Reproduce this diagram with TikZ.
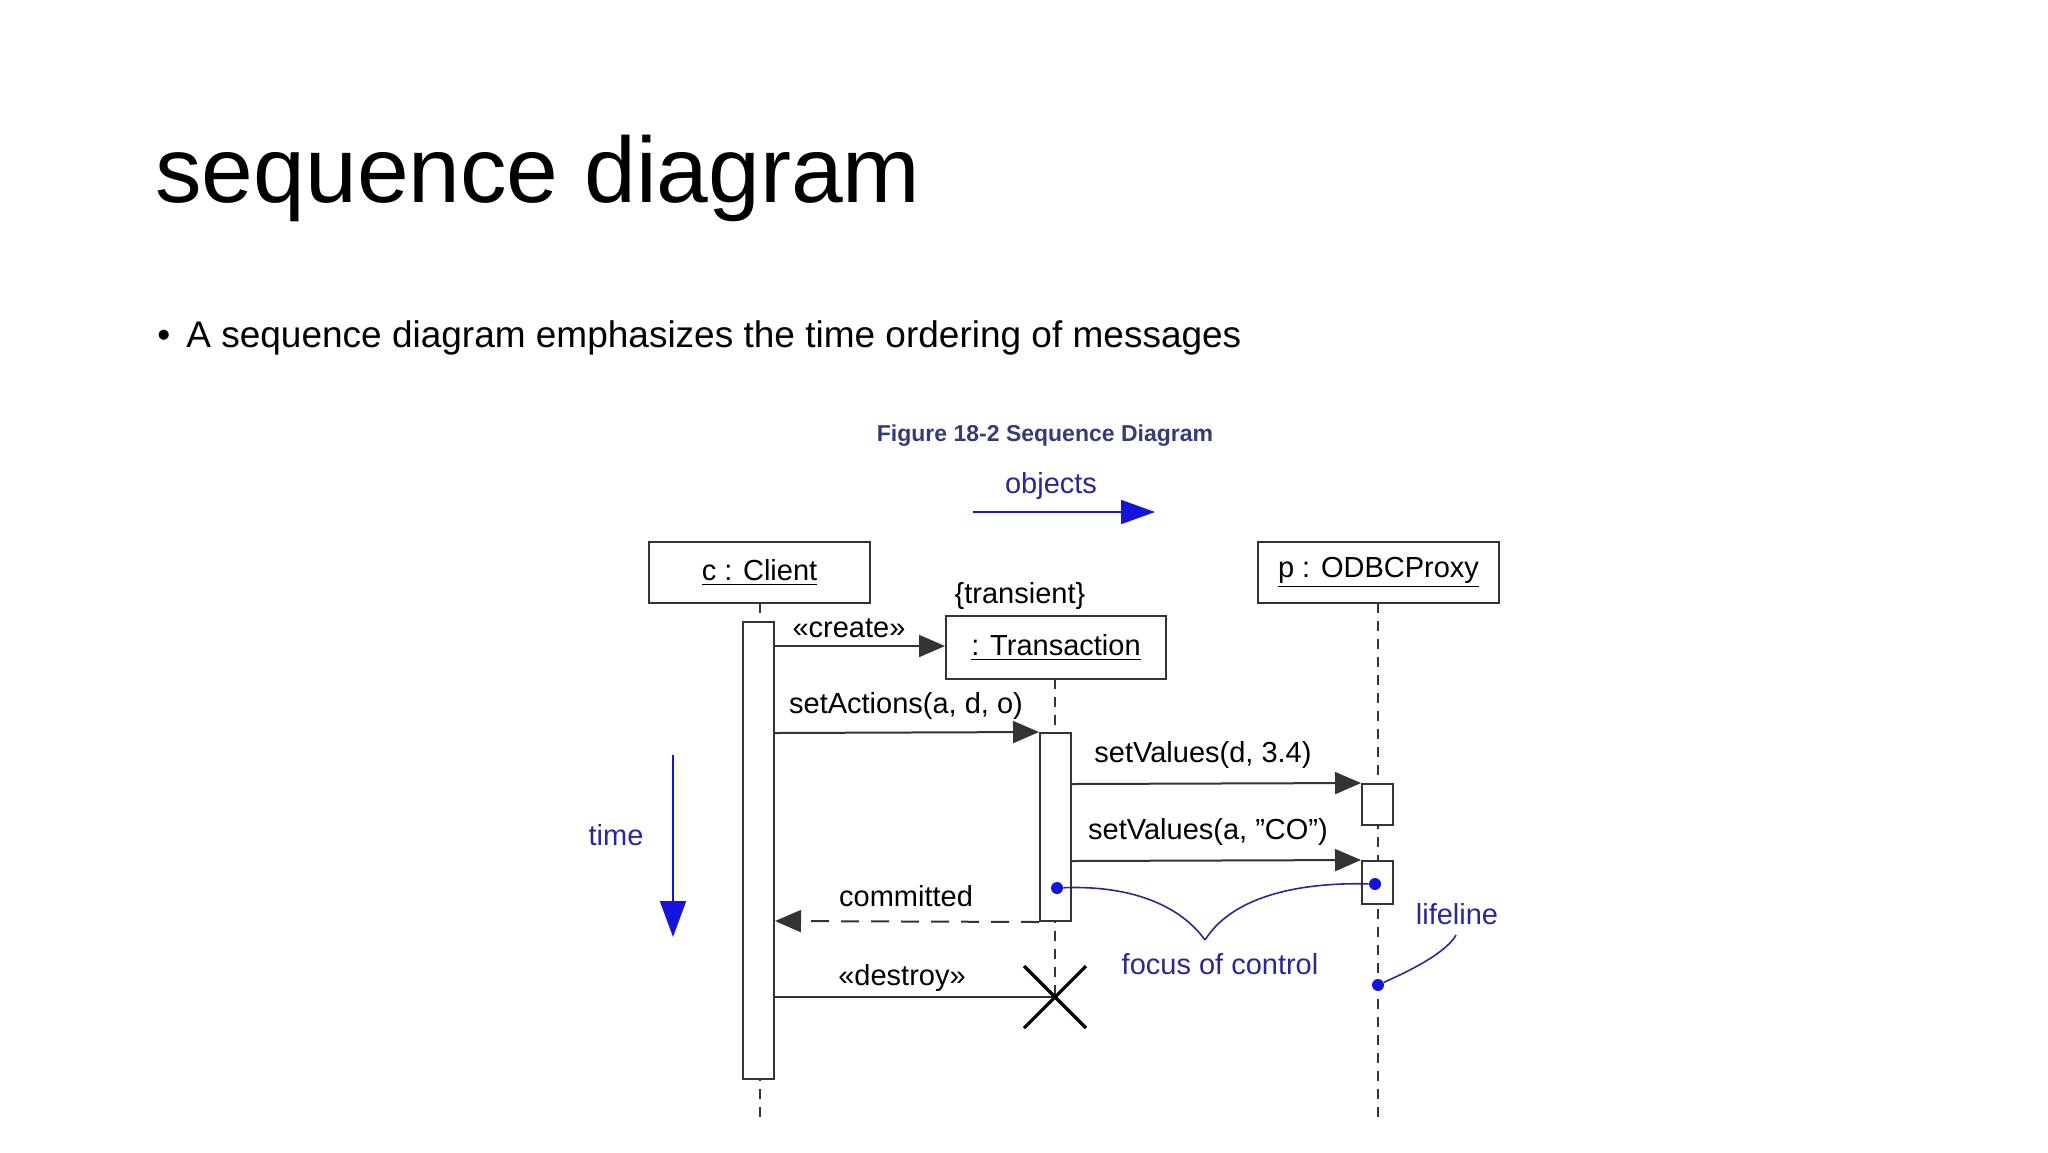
\documentclass[tikz,border=0pt]{standalone}
\usepackage{fontspec}
\setmainfont{Liberation Sans}
\usetikzlibrary{arrows.meta}
\definecolor{capblue}{RGB}{50,60,120}
\definecolor{fblue}{RGB}{20,20,220}
\definecolor{nblue}{RGB}{40,40,150}
\begin{document}
\begin{tikzpicture}[x=0.5pt,y=-0.5pt,
  box/.style={draw=black!80,line width=1pt,fill=white},
  msg/.style={draw=black!80,line width=1pt,-{Triangle[length=13pt,width=11pt]}},
  life/.style={draw=black!80,line width=0.8pt,dash pattern=on 5pt off 4pt},
  lbl/.style={font=\fontsize{14.5}{16}\selectfont,inner sep=0pt},
  blbl/.style={font=\fontsize{14.5}{16}\selectfont,inner sep=0pt,text=nblue},
  bl/.style={draw=nblue,line width=0.8pt},
  dot/.style={circle,fill=fblue,inner sep=0pt,minimum size=6pt}]
\useasboundingbox (0,0) rectangle (2048,1152);
\node[anchor=base west,inner sep=0pt,font=\fontsize{46.5}{50}\selectfont] (title) at (155,202) {sequence diagram};
\node[anchor=base west,inner sep=0pt,font=\fontsize{18.5}{22}\selectfont] (bul) at (157,347) {\textbullet\hspace{8pt}A sequence diagram emphasizes the time ordering of messages};
\node[font=\fontsize{11.5}{13}\selectfont\bfseries,text=capblue] (cap) at (1045,436) {Figure 18-2 Sequence Diagram};
\node[blbl] (obj) at (1051,486) {objects};
\coordinate (oa) at (973,512); \coordinate (ob) at (1155,512);
\draw[draw=fblue,line width=1pt,-{Triangle[length=17pt,width=12pt]}] (oa) -- (ob);
% lifelines
\coordinate (cl1) at (760,603); \coordinate (cl2) at (760,1122);
\coordinate (tl1) at (1055,679); \coordinate (tl2) at (1055,997);
\coordinate (pl1) at (1378,603); \coordinate (pl2) at (1378,1122);
\draw[life] (cl1) -- (cl2);
\draw[life] (tl1) -- (tl2);
\draw[life] (pl1) -- (pl2);
% objects
\node[box,minimum width=110.5pt,minimum height=30.5pt,lbl,draw] (c) at (759.5,572.5) {\underline{c : Client}};
\node[box,minimum width=110pt,minimum height=31.5pt,lbl,draw] (t) at (1056,647.5) {\underline{: Transaction}};
\node[box,minimum width=120.5pt,minimum height=30.5pt,lbl,draw] (p) at (1378.5,572.5) {\underline{p : ODBCProxy}};
\node[lbl] (tr) at (1020,596) {\{transient\}};
% activations
\node[box,minimum width=15.5pt,minimum height=228.5pt,inner sep=0pt] (ca) at (758.5,850.5) {};
\node[box,minimum width=15.5pt,minimum height=94pt,inner sep=0pt] (ta) at (1055.5,827) {};
\node[box,minimum width=15.5pt,minimum height=20.5pt,inner sep=0pt] (pa1) at (1377.5,804.5) {};
\node[box,minimum width=15.5pt,minimum height=21.5pt,inner sep=0pt] (pa2) at (1377.5,882.5) {};
% messages
\draw[msg] (ca.east |- 0,646) -- (t.west |- 0,646);
\node[lbl] (l1) at (849,628) {«create»};
\draw[msg] (ca.east |- 0,733) -- (ta.north west);
\node[lbl] (l2) at (906,706) {setActions(a, d, o)};
\draw[msg] (ta.east |- 0,784) -- (pa1.north west);
\node[lbl] (l3) at (1203,755) {setValues(d, 3.4)};
\draw[msg] (ta.east |- 0,861) -- (pa2.north west);
\node[lbl] (l4) at (1208,832) {setValues(a, "CO")};
\draw[msg,dash pattern=on 9pt off 6pt] (ta.south west) -- (ca.east |- 0,921);
\node[lbl] (l5) at (906,896) {committed};
\coordinate (x) at (1055,997);
\draw[draw=black!80,line width=1pt] (ca.east |- 0,997) -- (x);
\node[lbl] (l6) at (902,978) {«destroy»};
\draw[line width=1.6pt] (1024,966) -- (1086,1028) (1024,1028) -- (1086,966);
% time
\node[blbl] (time) at (616,835) {time};
\coordinate (ta1) at (673,755); \coordinate (ta2) at (673,937);
\draw[draw=fblue,line width=1pt,-{Triangle[length=18pt,width=13pt]}] (ta1) -- (ta2);
% focus of control
\node[dot] (d1) at (1057,888) {};
\node[dot] (d2) at (1375,884) {};
\coordinate (m) at (1205,940);
\draw[bl] (d1) .. controls (1130,885) and (1180,905) .. (m);
\draw[bl] (m) .. controls (1230,900) and (1290,882) .. (d2);
\node[blbl] (foc) at (1220,964) {focus of control};
\node[blbl] (ll) at (1457,914) {lifeline};
\node[dot] (d3) at (1378,985) {};
\coordinate (lc) at (1456,935);
\draw[bl] (lc) .. controls (1445,955) and (1400,975) .. (d3);
\end{tikzpicture}
\end{document}
